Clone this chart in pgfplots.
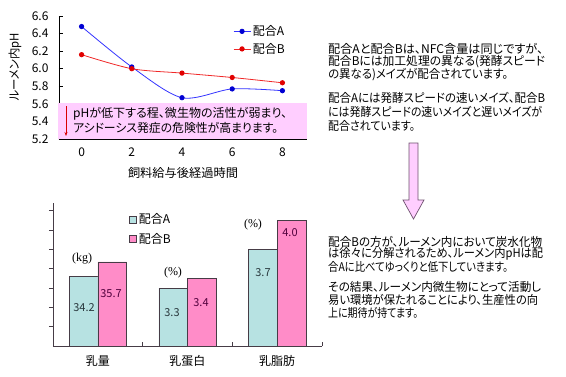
\documentclass[border=0pt]{standalone}
\usepackage{pgfplots}
\pgfplotsset{compat=1.18}
\usepackage{pgfplotstable}
\usetikzlibrary{arrows.meta}
\usepackage{fontspec}
\setmainfont{Noto Sans CJK JP}[RawFeature=+palt]
\newfontfamily\serifjp{Liberation Serif}

\definecolor{pinkbox}{RGB}{255,206,255}
\definecolor{barA}{RGB}{183,226,226}
\definecolor{barB}{RGB}{255,140,200}
\definecolor{edge}{RGB}{70,60,70}
\definecolor{arrowedge}{RGB}{110,80,110}
\definecolor{lineA}{RGB}{50,50,255}
\definecolor{markA}{RGB}{0,0,210}
\definecolor{lineB}{RGB}{240,40,40}
\definecolor{markB}{RGB}{225,0,0}
\definecolor{labA}{RGB}{40,55,60}
\definecolor{labB}{RGB}{80,0,60}

\pgfplotsset{sqlegend/.style={legend image code/.code={\draw[##1] (0pt,-3.5pt) rectangle (7pt,3.5pt);}}}

\newcommand{\tf}{\fontsize{12}{13}\selectfont}
\newcommand{\pf}{\fontsize{12}{14}\selectfont}
% a line of text set to a given width (horizontal scaling only)
\newcommand{\fit}[2]{\resizebox{#1pt}{\height}{#2}}

\pgfplotstableread{
x  a     b
0  6.48  6.16
2  6.02  6.00
4  5.67  5.95
6  5.77  5.90
8  5.75  5.84
}\phdata

% bar heights on a common scale (milk yield in kg / 10)
\pgfplotstableread{
x  a     b
0  3.42  3.57
1  3.30  3.40
2  3.70  4.00
}\bardata

\begin{document}
\begin{tikzpicture}[x=1pt,y=1pt]

% ---------------- line chart ----------------
\begin{axis}[
  name=lc,
  at={(59pt,237pt)}, anchor=south west, scale only axis,
  width=246pt, height=123pt,
  xmin=-0.9, xmax=8.9, ymin=5.2, ymax=6.6,
  axis x line=bottom, axis y line=left,
  axis line style={-, black, line width=0.6pt},
  xtick={0,2,4,6,8},
  ytick={5.2,5.4,5.6,5.8,6.0,6.2,6.4,6.6},
  /pgf/number format/assume math mode=true,
  tick align=inside, major tick length=4pt,
  tick style={black, line width=0.6pt},
  tick label style={font=\tf},
  yticklabel style={xshift=-7pt, /pgf/number format/fixed, /pgf/number format/fixed zerofill, /pgf/number format/precision=1},
  xticklabel style={yshift=-5pt},
  legend style={at={(0.707,0.94)}, anchor=north west, draw=none, fill=none,
    font=\tf, row sep=2pt, inner sep=0pt},
  legend cell align=left,
  clip=false,
]
\addplot[lineA, line width=0.8pt, smooth, mark=*, mark size=2.2pt,
  mark options={fill=markA, draw=markA}] table[x=x,y=a]{\phdata};
\addplot[lineB, line width=0.8pt, smooth, mark=*, mark size=2.2pt,
  mark options={fill=markB, draw=markB}] table[x=x,y=b]{\phdata};
\legend{配合A,配合B}
\end{axis}

\fill[pinkbox] (58,273) rectangle (307,237.4);
\draw[black, line width=0.6pt] (59,237) -- (307,237);
\draw[red!85!black, line width=0.6pt, -{Stealth[length=4pt,width=3pt]}] (66,270) -- (66,240);
\node[anchor=west, font=\tf, inner sep=0pt] at (73,262) {\fit{214}{pHが低下する程、微生物の活性が弱まり、}};
\node[anchor=west, font=\tf, inner sep=0pt] at (73,248) {\fit{205}{アシドーシス発症の危険性が高まります。}};

\node[rotate=90, font=\tf] at (15,309) {\fit{68}{ルーメン内pH}};
\node[font=\tf] at (183,203) {\fit{110}{飼料給与後経過時間}};

% ---------------- bar chart ----------------
\begin{axis}[
  name=bc,
  at={(53pt,30pt)}, anchor=south west, scale only axis,
  width=269pt, height=143pt,
  xmin=-0.5, xmax=2.5, ymin=2.7, ymax=4.18,
  axis x line=bottom, axis y line=left,
  axis line style={-, edge, line width=0.6pt},
  ybar=0pt, bar width=0.32,
  sqlegend,
  tick align=inside, major tick length=4pt,
  tick style={edge, line width=0.6pt},
  xtick={0.5,1.5,2.5}, xticklabels={},
  extra x ticks={0,1,2},
  extra x tick labels={乳量,乳蛋白,乳脂肪},
  extra x tick style={major tick length=0pt, tick label style={font=\tf, yshift=-6pt}},
  ytick={2.9,3.1,3.3,3.5,3.7,3.9,4.1}, yticklabels={},
  ytick style={xshift=-4pt},
  legend style={at={(0.283,0.94)}, anchor=north west, draw=none, fill=none,
    font=\tf, row sep=4pt, inner sep=0pt},
  legend cell align=left,
  clip=false,
]
\addplot[fill=barA, draw=edge, line width=0.6pt] table[x=x,y=a]{\bardata};
\addplot[fill=barB, draw=edge, line width=0.6pt] table[x=x,y=b]{\bardata};
\legend{配合A,配合B}
\end{axis}

\begin{scope}[font=\fontsize{11}{12}\selectfont]
\node[text=labA] at (84,68) {34.2};
\node[text=labB] at (111,82) {35.7};
\node[text=labA] at (172,63) {3.3};
\node[text=labB] at (201,73) {3.4};
\node[text=labA] at (263,103) {3.7};
\node[text=labB] at (290,143) {4.0};
\end{scope}
\begin{scope}[font=\serifjp\fontsize{12}{12}\selectfont]
\node at (82,117) {(kg)};
\node at (173,103) {(\%)};
\node at (253,151) {(\%)};
\end{scope}

% ---------------- arrow ----------------
\filldraw[fill=pinkbox, draw=arrowedge, line width=0.7pt]
  (409,233) -- (418,233) -- (418,176) -- (424,176) -- (413.5,157)
  -- (403,176) -- (409,176) -- cycle;

% ---------------- explanatory text ----------------
\begin{scope}[every node/.style={anchor=west, font=\pf, inner sep=0pt}]
\node at (328,327) {\fit{215}{配合Aと配合Bは、NFC含量は同じですが、}};
\node at (328,314) {\fit{217}{配合Bには加工処理の異なる(発酵スピード}};
\node at (328,301) {\fit{180}{の異なる)メイズが配合されています。}};
\node at (328,278) {\fit{217}{配合Aには発酵スピードの速いメイズ、配合B}};
\node at (328,264) {\fit{214}{には発酵スピードの速いメイズと遅いメイズが}};
\node at (328,250) {\fit{87}{配合されています。}};
\node at (328,134) {\fit{214}{配合Bの方が、ルーメン内において炭水化物}};
\node at (328,122) {\fit{215}{は徐々に分解されるため、ルーメン内pHは配}};
\node at (328,109) {\fit{180}{合Aに比べてゆっくりと低下していきます。}};
\node at (328,89) {\fit{213}{その結果、ルーメン内微生物にとって活動し}};
\node at (328,76) {\fit{210}{易い環境が保たれることにより、生産性の向}};
\node at (328,63) {\fit{90}{上に期待が持てます。}};
\end{scope}

\pgfresetboundingbox
\useasboundingbox (0,0) rectangle (566,376);
\end{tikzpicture}
\end{document}
